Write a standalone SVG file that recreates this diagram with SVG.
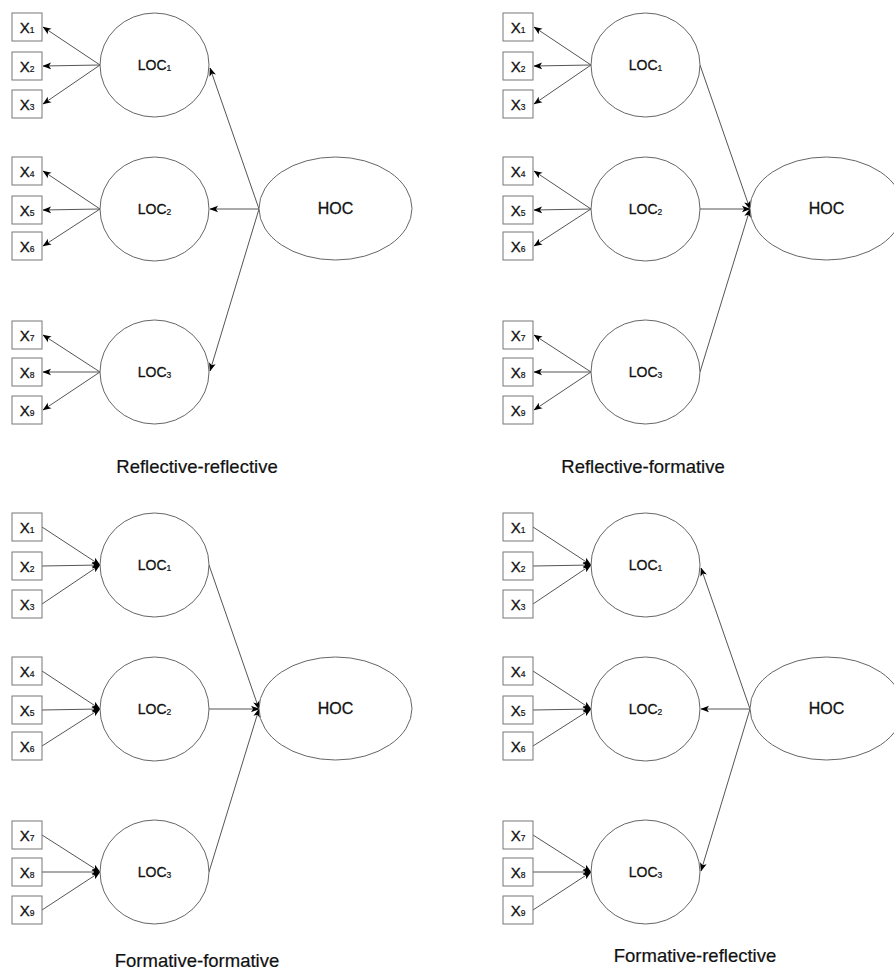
<svg xmlns="http://www.w3.org/2000/svg" width="894" height="971" viewBox="0 0 894 971">
<style>
.bg{fill:#fff}
.box{fill:#fff;stroke:#777;stroke-width:1}
.lv{fill:#fff;stroke:#666;stroke-width:1}
.ln{fill:none;stroke:#555;stroke-width:1}
.ln.a{marker-end:url(#arr)}
text{font-family:"Liberation Sans",Arial,Helvetica,sans-serif;fill:#111;stroke:#111;stroke-width:0.3;text-anchor:middle}
.xl{font-size:15px}
.ll{font-size:14px}
.hl{font-size:16px}
.cap{font-size:18.5px;stroke-width:0.2}
.sub{font-size:8.5px;stroke-width:0.2}
</style>
<defs>
<marker id="arr" viewBox="0 0 10 8" refX="9.5" refY="4" markerWidth="8.5" markerHeight="7.5" markerUnits="userSpaceOnUse" orient="auto">
<path d="M0,0 L10,4 L0,8 L2.5,4 Z" fill="#000"/>
</marker>
</defs>
<rect class="bg" x="0" y="0" width="894" height="971"/>

<!-- ===== Panel: Reflective-reflective (top-left) ===== -->
<g id="panel-rr">
<g id="rr-connectors">
<line class="ln a" x1="100" y1="65" x2="43" y2="27"/>
<line class="ln a" x1="100" y1="65" x2="43" y2="66"/>
<line class="ln a" x1="100" y1="65" x2="43" y2="104"/>
<line class="ln a" x1="100" y1="209" x2="43" y2="171"/>
<line class="ln a" x1="100" y1="209" x2="43" y2="210"/>
<line class="ln a" x1="100" y1="209" x2="43" y2="246"/>
<line class="ln a" x1="100" y1="372" x2="43" y2="335"/>
<line class="ln a" x1="100" y1="372" x2="43" y2="372"/>
<line class="ln a" x1="100" y1="372" x2="43" y2="410"/>
<line class="ln a" x1="259" y1="209" x2="210" y2="68"/>
<line class="ln a" x1="259" y1="209" x2="210" y2="209"/>
<line class="ln a" x1="259" y1="209" x2="210" y2="371"/>
</g>
<g id="rr-x1"><rect class="box" x="12" y="13" width="30" height="28"/><text class="xl" x="27" y="32.5">X<tspan class="sub" dy="0.5">1</tspan></text></g>
<g id="rr-x2"><rect class="box" x="12" y="52" width="30" height="28"/><text class="xl" x="27" y="71.5">X<tspan class="sub" dy="0.5">2</tspan></text></g>
<g id="rr-x3"><rect class="box" x="12" y="90" width="30" height="28"/><text class="xl" x="27" y="109.5">X<tspan class="sub" dy="0.5">3</tspan></text></g>
<g id="rr-x4"><rect class="box" x="12" y="157" width="30" height="28"/><text class="xl" x="27" y="176.5">X<tspan class="sub" dy="0.5">4</tspan></text></g>
<g id="rr-x5"><rect class="box" x="12" y="196" width="30" height="28"/><text class="xl" x="27" y="215.5">X<tspan class="sub" dy="0.5">5</tspan></text></g>
<g id="rr-x6"><rect class="box" x="12" y="232" width="30" height="28"/><text class="xl" x="27" y="251.5">X<tspan class="sub" dy="0.5">6</tspan></text></g>
<g id="rr-x7"><rect class="box" x="12" y="321" width="30" height="28"/><text class="xl" x="27" y="340.5">X<tspan class="sub" dy="0.5">7</tspan></text></g>
<g id="rr-x8"><rect class="box" x="12" y="358" width="30" height="28"/><text class="xl" x="27" y="377.5">X<tspan class="sub" dy="0.5">8</tspan></text></g>
<g id="rr-x9"><rect class="box" x="12" y="396" width="30" height="28"/><text class="xl" x="27" y="415.5">X<tspan class="sub" dy="0.5">9</tspan></text></g>
<g id="rr-loc1"><ellipse class="lv" cx="154.5" cy="65" rx="54.5" ry="52"/><text class="ll" x="154.5" y="70">LOC<tspan class="sub" dy="0.5">1</tspan></text></g>
<g id="rr-loc2"><ellipse class="lv" cx="154.5" cy="209" rx="54.5" ry="52"/><text class="ll" x="154.5" y="214">LOC<tspan class="sub" dy="0.5">2</tspan></text></g>
<g id="rr-loc3"><ellipse class="lv" cx="154.5" cy="372" rx="54.5" ry="52"/><text class="ll" x="154.5" y="377">LOC<tspan class="sub" dy="0.5">3</tspan></text></g>
<g id="rr-hoc"><ellipse class="lv" cx="335.5" cy="208.5" rx="76.5" ry="51.5"/><text class="hl" x="335.5" y="214">HOC</text></g>
</g>

<!-- ===== Panel: Reflective-formative (top-right) ===== -->
<g id="panel-rf" transform="translate(491,0)">
<g id="rf-connectors">
<line class="ln a" x1="100" y1="65" x2="43" y2="27"/>
<line class="ln a" x1="100" y1="65" x2="43" y2="66"/>
<line class="ln a" x1="100" y1="65" x2="43" y2="104"/>
<line class="ln a" x1="100" y1="209" x2="43" y2="171"/>
<line class="ln a" x1="100" y1="209" x2="43" y2="210"/>
<line class="ln a" x1="100" y1="209" x2="43" y2="246"/>
<line class="ln a" x1="100" y1="372" x2="43" y2="335"/>
<line class="ln a" x1="100" y1="372" x2="43" y2="372"/>
<line class="ln a" x1="100" y1="372" x2="43" y2="410"/>
<line class="ln a" x1="209" y1="65" x2="259" y2="209"/>
<line class="ln a" x1="209" y1="209" x2="259" y2="209"/>
<line class="ln a" x1="209" y1="372" x2="259" y2="209"/>
</g>
<g id="rf-x1"><rect class="box" x="12" y="13" width="30" height="28"/><text class="xl" x="27" y="32.5">X<tspan class="sub" dy="0.5">1</tspan></text></g>
<g id="rf-x2"><rect class="box" x="12" y="52" width="30" height="28"/><text class="xl" x="27" y="71.5">X<tspan class="sub" dy="0.5">2</tspan></text></g>
<g id="rf-x3"><rect class="box" x="12" y="90" width="30" height="28"/><text class="xl" x="27" y="109.5">X<tspan class="sub" dy="0.5">3</tspan></text></g>
<g id="rf-x4"><rect class="box" x="12" y="157" width="30" height="28"/><text class="xl" x="27" y="176.5">X<tspan class="sub" dy="0.5">4</tspan></text></g>
<g id="rf-x5"><rect class="box" x="12" y="196" width="30" height="28"/><text class="xl" x="27" y="215.5">X<tspan class="sub" dy="0.5">5</tspan></text></g>
<g id="rf-x6"><rect class="box" x="12" y="232" width="30" height="28"/><text class="xl" x="27" y="251.5">X<tspan class="sub" dy="0.5">6</tspan></text></g>
<g id="rf-x7"><rect class="box" x="12" y="321" width="30" height="28"/><text class="xl" x="27" y="340.5">X<tspan class="sub" dy="0.5">7</tspan></text></g>
<g id="rf-x8"><rect class="box" x="12" y="358" width="30" height="28"/><text class="xl" x="27" y="377.5">X<tspan class="sub" dy="0.5">8</tspan></text></g>
<g id="rf-x9"><rect class="box" x="12" y="396" width="30" height="28"/><text class="xl" x="27" y="415.5">X<tspan class="sub" dy="0.5">9</tspan></text></g>
<g id="rf-loc1"><ellipse class="lv" cx="154.5" cy="65" rx="54.5" ry="52"/><text class="ll" x="154.5" y="70">LOC<tspan class="sub" dy="0.5">1</tspan></text></g>
<g id="rf-loc2"><ellipse class="lv" cx="154.5" cy="209" rx="54.5" ry="52"/><text class="ll" x="154.5" y="214">LOC<tspan class="sub" dy="0.5">2</tspan></text></g>
<g id="rf-loc3"><ellipse class="lv" cx="154.5" cy="372" rx="54.5" ry="52"/><text class="ll" x="154.5" y="377">LOC<tspan class="sub" dy="0.5">3</tspan></text></g>
<g id="rf-hoc"><ellipse class="lv" cx="335.5" cy="208.5" rx="76.5" ry="51.5"/><text class="hl" x="335.5" y="214">HOC</text></g>
</g>

<!-- ===== Panel: Formative-formative (bottom-left) ===== -->
<g id="panel-ff" transform="translate(0,500)">
<g id="ff-connectors">
<line class="ln a" x1="42" y1="27" x2="100" y2="65"/>
<line class="ln a" x1="42" y1="66" x2="100" y2="65"/>
<line class="ln a" x1="42" y1="104" x2="100" y2="65"/>
<line class="ln a" x1="42" y1="171" x2="100" y2="209"/>
<line class="ln a" x1="42" y1="210" x2="100" y2="209"/>
<line class="ln a" x1="42" y1="246" x2="100" y2="209"/>
<line class="ln a" x1="42" y1="335" x2="100" y2="372"/>
<line class="ln a" x1="42" y1="372" x2="100" y2="372"/>
<line class="ln a" x1="42" y1="410" x2="100" y2="372"/>
<line class="ln a" x1="209" y1="65" x2="259" y2="209"/>
<line class="ln a" x1="209" y1="209" x2="259" y2="209"/>
<line class="ln a" x1="209" y1="372" x2="259" y2="209"/>
</g>
<g id="ff-x1"><rect class="box" x="12" y="13" width="30" height="28"/><text class="xl" x="27" y="32.5">X<tspan class="sub" dy="0.5">1</tspan></text></g>
<g id="ff-x2"><rect class="box" x="12" y="52" width="30" height="28"/><text class="xl" x="27" y="71.5">X<tspan class="sub" dy="0.5">2</tspan></text></g>
<g id="ff-x3"><rect class="box" x="12" y="90" width="30" height="28"/><text class="xl" x="27" y="109.5">X<tspan class="sub" dy="0.5">3</tspan></text></g>
<g id="ff-x4"><rect class="box" x="12" y="157" width="30" height="28"/><text class="xl" x="27" y="176.5">X<tspan class="sub" dy="0.5">4</tspan></text></g>
<g id="ff-x5"><rect class="box" x="12" y="196" width="30" height="28"/><text class="xl" x="27" y="215.5">X<tspan class="sub" dy="0.5">5</tspan></text></g>
<g id="ff-x6"><rect class="box" x="12" y="232" width="30" height="28"/><text class="xl" x="27" y="251.5">X<tspan class="sub" dy="0.5">6</tspan></text></g>
<g id="ff-x7"><rect class="box" x="12" y="321" width="30" height="28"/><text class="xl" x="27" y="340.5">X<tspan class="sub" dy="0.5">7</tspan></text></g>
<g id="ff-x8"><rect class="box" x="12" y="358" width="30" height="28"/><text class="xl" x="27" y="377.5">X<tspan class="sub" dy="0.5">8</tspan></text></g>
<g id="ff-x9"><rect class="box" x="12" y="396" width="30" height="28"/><text class="xl" x="27" y="415.5">X<tspan class="sub" dy="0.5">9</tspan></text></g>
<g id="ff-loc1"><ellipse class="lv" cx="154.5" cy="65" rx="54.5" ry="52"/><text class="ll" x="154.5" y="70">LOC<tspan class="sub" dy="0.5">1</tspan></text></g>
<g id="ff-loc2"><ellipse class="lv" cx="154.5" cy="209" rx="54.5" ry="52"/><text class="ll" x="154.5" y="214">LOC<tspan class="sub" dy="0.5">2</tspan></text></g>
<g id="ff-loc3"><ellipse class="lv" cx="154.5" cy="372" rx="54.5" ry="52"/><text class="ll" x="154.5" y="377">LOC<tspan class="sub" dy="0.5">3</tspan></text></g>
<g id="ff-hoc"><ellipse class="lv" cx="335.5" cy="208.5" rx="76.5" ry="51.5"/><text class="hl" x="335.5" y="214">HOC</text></g>
</g>

<!-- ===== Panel: Formative-reflective (bottom-right) ===== -->
<g id="panel-fr" transform="translate(491,500)">
<g id="fr-connectors">
<line class="ln a" x1="42" y1="27" x2="100" y2="65"/>
<line class="ln a" x1="42" y1="66" x2="100" y2="65"/>
<line class="ln a" x1="42" y1="104" x2="100" y2="65"/>
<line class="ln a" x1="42" y1="171" x2="100" y2="209"/>
<line class="ln a" x1="42" y1="210" x2="100" y2="209"/>
<line class="ln a" x1="42" y1="246" x2="100" y2="209"/>
<line class="ln a" x1="42" y1="335" x2="100" y2="372"/>
<line class="ln a" x1="42" y1="372" x2="100" y2="372"/>
<line class="ln a" x1="42" y1="410" x2="100" y2="372"/>
<line class="ln a" x1="259" y1="209" x2="210" y2="68"/>
<line class="ln a" x1="259" y1="209" x2="210" y2="209"/>
<line class="ln a" x1="259" y1="209" x2="210" y2="371"/>
</g>
<g id="fr-x1"><rect class="box" x="12" y="13" width="30" height="28"/><text class="xl" x="27" y="32.5">X<tspan class="sub" dy="0.5">1</tspan></text></g>
<g id="fr-x2"><rect class="box" x="12" y="52" width="30" height="28"/><text class="xl" x="27" y="71.5">X<tspan class="sub" dy="0.5">2</tspan></text></g>
<g id="fr-x3"><rect class="box" x="12" y="90" width="30" height="28"/><text class="xl" x="27" y="109.5">X<tspan class="sub" dy="0.5">3</tspan></text></g>
<g id="fr-x4"><rect class="box" x="12" y="157" width="30" height="28"/><text class="xl" x="27" y="176.5">X<tspan class="sub" dy="0.5">4</tspan></text></g>
<g id="fr-x5"><rect class="box" x="12" y="196" width="30" height="28"/><text class="xl" x="27" y="215.5">X<tspan class="sub" dy="0.5">5</tspan></text></g>
<g id="fr-x6"><rect class="box" x="12" y="232" width="30" height="28"/><text class="xl" x="27" y="251.5">X<tspan class="sub" dy="0.5">6</tspan></text></g>
<g id="fr-x7"><rect class="box" x="12" y="321" width="30" height="28"/><text class="xl" x="27" y="340.5">X<tspan class="sub" dy="0.5">7</tspan></text></g>
<g id="fr-x8"><rect class="box" x="12" y="358" width="30" height="28"/><text class="xl" x="27" y="377.5">X<tspan class="sub" dy="0.5">8</tspan></text></g>
<g id="fr-x9"><rect class="box" x="12" y="396" width="30" height="28"/><text class="xl" x="27" y="415.5">X<tspan class="sub" dy="0.5">9</tspan></text></g>
<g id="fr-loc1"><ellipse class="lv" cx="154.5" cy="65" rx="54.5" ry="52"/><text class="ll" x="154.5" y="70">LOC<tspan class="sub" dy="0.5">1</tspan></text></g>
<g id="fr-loc2"><ellipse class="lv" cx="154.5" cy="209" rx="54.5" ry="52"/><text class="ll" x="154.5" y="214">LOC<tspan class="sub" dy="0.5">2</tspan></text></g>
<g id="fr-loc3"><ellipse class="lv" cx="154.5" cy="372" rx="54.5" ry="52"/><text class="ll" x="154.5" y="377">LOC<tspan class="sub" dy="0.5">3</tspan></text></g>
<g id="fr-hoc"><ellipse class="lv" cx="335.5" cy="208.5" rx="76.5" ry="51.5"/><text class="hl" x="335.5" y="214">HOC</text></g>
</g>

<g id="captions">
<text class="cap" x="197" y="473">Reflective-reflective</text>
<text class="cap" x="643" y="473">Reflective-formative</text>
<text class="cap" x="197" y="967">Formative-formative</text>
<text class="cap" x="695" y="962">Formative-reflective</text>
</g>
</svg>
